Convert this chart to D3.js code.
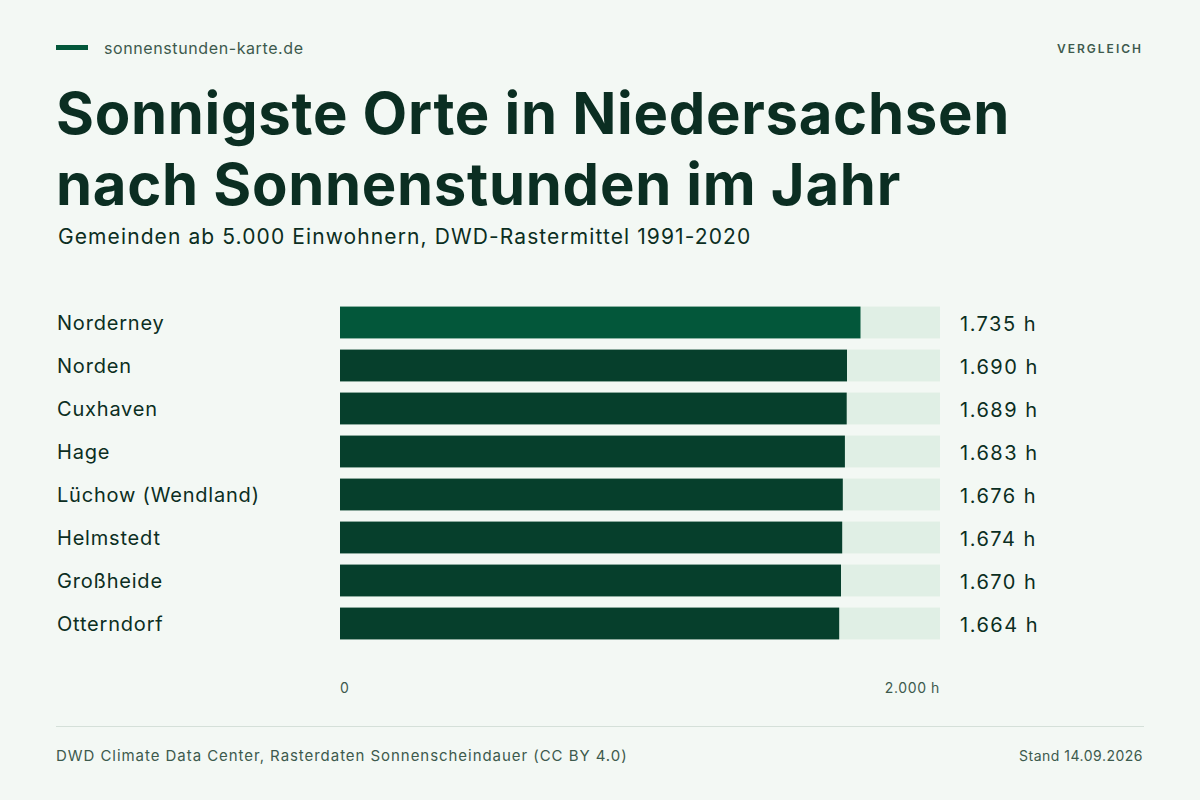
<!DOCTYPE html>
<html><head><meta charset="utf-8">
<script src="https://cdn.jsdelivr.net/npm/d3@7"></script>
<style>body{margin:0;background:#f3f8f4}svg{display:block}</style>
</head><body><svg width="1200" height="800"></svg>
<script>
const places = ["Norderney","Norden","Cuxhaven","Hage","Lüchow (Wendland)","Helmstedt","Großheide","Otterndorf"];
const hours = [1735,1690,1689,1683,1676,1674,1670,1664];
const tickLabels = ["0","2.000 h"];

const svg = d3.select("svg");
const font = "Inter, 'Noto Sans', sans-serif";
svg.append("rect").attr("width",1200).attr("height",800).attr("fill","#f3f8f4");

svg.append("rect").attr("x",56).attr("y",45).attr("width",32).attr("height",5).attr("fill","#03573a");
svg.append("text").attr("x",104).attr("y",54).text("sonnenstunden-karte.de")
  .attr("font-family",font).attr("font-size",16).attr("letter-spacing",0.6).attr("fill","#3d5a4d");
svg.append("text").attr("x",1143).attr("y",53).attr("text-anchor","end").text("VERGLEICH")
  .attr("font-family",font).attr("font-size",12).attr("font-weight",600).attr("letter-spacing",2).attr("fill","#3d5a4d");

[["Sonnigste Orte in Niedersachsen",134],["nach Sonnenstunden im Jahr",205]].forEach(([t,y])=>
  svg.append("text").attr("x",56).attr("y",y).text(t).attr("font-family",font)
    .attr("font-size",58).attr("font-weight",700).attr("letter-spacing",0.7).attr("fill","#0b2e22"));
svg.append("text").attr("x",58).attr("y",244).text("Gemeinden ab 5.000 Einwohnern, DWD-Rastermittel 1991-2020")
  .attr("font-family",font).attr("font-size",21).attr("letter-spacing",1.1).attr("fill","#0b2e22");

const x = d3.scaleLinear().domain([0,2000]).range([340,940]);
const y = d3.scaleBand().domain(places).range([301,645]).paddingInner(0.26).paddingOuter(0.13);

const g = svg.append("g");
places.forEach((p,i)=>{
  g.append("rect").attr("x",x(0)).attr("y",y(p)).attr("width",x(2000)-x(0)).attr("height",y.bandwidth()).attr("fill","#e0efe5");
  g.append("rect").attr("x",x(0)).attr("y",y(p)).attr("width",x(hours[i])-x(0)).attr("height",y.bandwidth())
    .attr("fill", i===0 ? "#03573a" : "#063f2c");
  g.append("text").attr("x",57).attr("y",y(p)+y.bandwidth()/2+7).text(p)
    .attr("font-family",font).attr("font-size",20).attr("letter-spacing",0.8).attr("fill","#0b2e22");
  g.append("text").attr("x",960).attr("y",y(p)+y.bandwidth()/2+8).text(d3.format(",")(hours[i]).replace(",",".")+" h")
    .attr("font-family",font).attr("font-size",20).attr("letter-spacing",1.5).attr("fill","#0b2e22");
});
svg.append("text").attr("x",x(0)).attr("y",693).text(tickLabels[0]).attr("font-family",font).attr("font-size",14).attr("fill","#3d5a4d");
svg.append("text").attr("x",x(2000)).attr("y",693).attr("text-anchor","end").text(tickLabels[1]).attr("font-family",font).attr("font-size",14).attr("letter-spacing",0.6).attr("fill","#3d5a4d");

svg.append("line").attr("x1",56).attr("x2",1144).attr("y1",726.5).attr("y2",726.5).attr("stroke","#d5e0d9");
svg.append("text").attr("x",56).attr("y",761).text("DWD Climate Data Center, Rasterdaten Sonnenscheindauer (CC BY 4.0)")
  .attr("font-family",font).attr("font-size",15).attr("letter-spacing",0.95).attr("fill","#3d5a4d");
svg.append("text").attr("x",1143).attr("y",761).attr("text-anchor","end").text("Stand 14.09.2026")
  .attr("font-family",font).attr("font-size",14).attr("letter-spacing",0.5).attr("fill","#3d5a4d");
</script></body></html>
